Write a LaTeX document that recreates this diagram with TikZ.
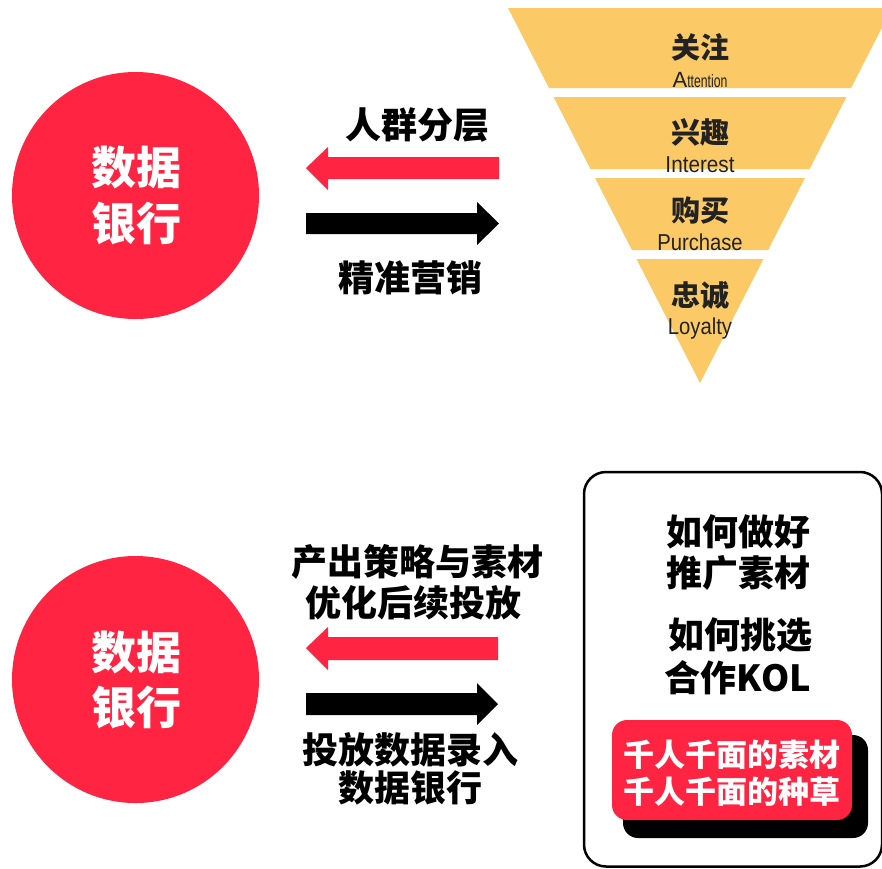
\documentclass[tikz,border=0pt]{standalone}
\usepackage{fontspec}
\newfontfamily\cjk{Noto Sans CJK SC}
\newfontfamily\lat{Liberation Sans}
\definecolor{xred}{HTML}{FE2442}
\definecolor{funnel}{HTML}{FBCA66}
\definecolor{ink}{HTML}{222222}
\tikzset{
  circ/.style={circle,fill=xred,minimum size=247pt,inner sep=0pt},
  wtxt/.style={text=white,inner sep=0pt,font=\cjk\bfseries\fontsize{45}{48}\selectfont},
  btxt/.style={text=black,inner sep=0pt,font=\cjk\bfseries\fontsize{36}{40}\selectfont},
  ftxt/.style={text=ink,inner sep=0pt,font=\cjk\bfseries\fontsize{29}{32}\selectfont},
  etxt/.style={text=ink,inner sep=0pt,font=\lat\fontsize{23}{26}\selectfont},
  rtxt/.style={text=white,inner sep=0pt,font=\cjk\bfseries\fontsize{31}{34}\selectfont},
  seg/.style={fill=funnel},
}
\begin{document}
\begin{tikzpicture}[x=1pt,y=-1pt]
\useasboundingbox (0,0) rectangle (882,868);
\clip (0,0) rectangle (882,868);
% ---------- top section ----------
\node[circ] (c1) at (135.5,195.5) {};
\node[wtxt] (c1a) at (136,168) {数据};
\node[wtxt] (c1b) at (136,223) {银行};
% arrows
\fill[xred] (306,168) -- (328,147) -- (328,157) -- (499,157) -- (499,179) -- (328,179) -- (328,190) -- cycle;
\fill[black] (306,213) -- (477,213) -- (477,202) -- (499,223.5) -- (477,245) -- (477,234) -- (306,234) -- cycle;
\node[btxt] (t1) at (417,125) {人群分层};
\node[btxt] (t2) at (410,278) {精准营销};
% funnel
\fill[seg] (508,8) -- (892,8) -- (851.04,88) -- (548.96,88) -- cycle;
\fill[seg] (553.57,97) -- (846.43,97) -- (809.57,169) -- (590.43,169) -- cycle;
\fill[seg] (595.04,178) -- (804.96,178) -- (768.1,250) -- (631.9,250) -- cycle;
\fill[seg] (636.5,259) -- (763.5,259) -- (700,383) -- cycle;
\node[ftxt] (f1) at (700,47) {关注};
\node[etxt] (e1) at (700,80) {\fontsize{22}{24}\selectfont A\scalebox{0.68}[1]{\fontsize{18}{20}\selectfont ttention}};
\node[ftxt] (f2) at (700,132) {兴趣};
\node[etxt] (e2) at (700,165) {\scalebox{0.9}[1]{Interest}};
\node[etxt] (e3) at (700,242) {\scalebox{0.88}[1]{Purchase}};
\node[ftxt] (f3) at (700,210) {购买};
\node[ftxt] (f4) at (700,295) {忠诚};
\node[etxt] (e4) at (700,329) {\scalebox{0.88}[1]{Loyalty}};
% ---------- bottom section ----------
\node[circ] (c2) at (135.5,679.5) {};
\node[wtxt] (c2a) at (136,652) {数据};
\node[wtxt] (c2b) at (136,707) {银行};
\fill[xred] (306,648) -- (328,627) -- (328,637) -- (498,637) -- (498,660) -- (328,660) -- (328,670) -- cycle;
\fill[black] (306,693) -- (477,693) -- (477,683) -- (498,704) -- (477,725) -- (477,715) -- (306,715) -- cycle;
\node[btxt] (b1) at (417,562) {产出策略与素材};
\node[btxt] (b2) at (413,603) {优化后续投放};
\node[btxt] (b3) at (410,750) {投放数据录入};
\node[btxt] (b4) at (410,788) {数据银行};
% box
\draw[line width=2.5pt,rounded corners=22pt] (584,472) rectangle (882,866.5);
\node[btxt] (k1) at (738,532) {如何做好};
\node[btxt] (k2) at (738,573) {推广素材};
\node[btxt] (k3) at (740,635) {如何挑选};
\node[btxt] (k4) at (738,678) {合作KOL};
\fill[black,rounded corners=15pt] (623,735) rectangle (868,838);
\fill[xred,rounded corners=15pt] (612,720) rectangle (852,820);
\node[rtxt] (r1) at (732,755) {千人千面的素材};
\node[rtxt] (r2) at (732,792) {千人千面的种草};
\end{tikzpicture}
\end{document}
